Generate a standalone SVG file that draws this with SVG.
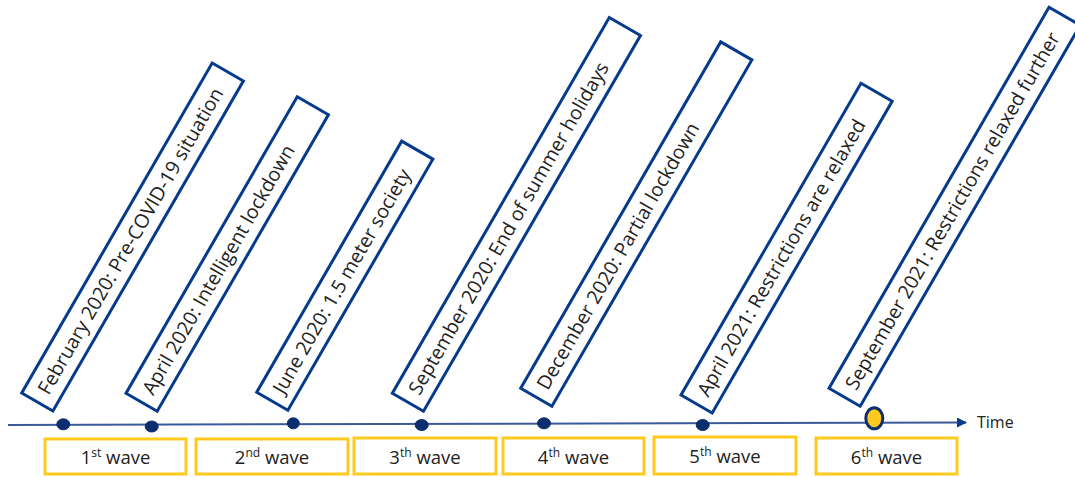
<svg xmlns="http://www.w3.org/2000/svg" width="1075" height="477" viewBox="0 0 1075 477">
<defs>
<style>
.ev rect{fill:#fff;stroke:#063a8c;stroke-width:3}
.ev text{font-family:"Open Sans","Noto Sans",sans-serif;font-size:19.5px;fill:#222}
.wave rect{fill:#fff;stroke:#ffc91f;stroke-width:3}
.wave text{font-family:"Open Sans","Noto Sans",sans-serif;font-size:18.5px;fill:#222;text-anchor:middle}
.sup{font-size:12px}
.dot{fill:#0c2d6e;stroke:#0c2d6e;stroke-width:1}
</style>
<marker id="arr" markerWidth="10" markerHeight="10" refX="9" refY="5" orient="auto" markerUnits="userSpaceOnUse">
<path d="M0,0 L10,5 L0,10 z" fill="#063a8c"/>
</marker>
</defs>
<rect width="1075" height="477" fill="#fff"/>

<g id="connectors">
<line x1="8" y1="425" x2="966" y2="422.5" stroke="#3c5a9a" stroke-width="2" marker-end="url(#arr)"/>
<ellipse class="dot" cx="63.3" cy="424.3" rx="6.5" ry="5.5"/>
<ellipse class="dot" cx="151.7" cy="426.5" rx="6.5" ry="5.5"/>
<ellipse class="dot" cx="293.3" cy="423.3" rx="6" ry="5.5"/>
<ellipse class="dot" cx="421.7" cy="425" rx="6.5" ry="5.5"/>
<ellipse class="dot" cx="544" cy="423.3" rx="6.5" ry="5.5"/>
<ellipse class="dot" cx="702.7" cy="425" rx="6.5" ry="5.5"/>
<ellipse cx="874.3" cy="418.3" rx="8.5" ry="10.5" fill="#ffc91f" stroke="#0c2d6e" stroke-width="3"/>
<text x="977" y="428" font-family="'Open Sans','Noto Sans',sans-serif" font-size="16" fill="#222">Time</text>
</g>

<g id="ev1" class="ev" transform="translate(21.7,393) rotate(-60)"><rect x="0" y="0" width="381" height="36"/><text x="11" y="25">February 2020: Pre-COVID-19 situation</text></g>
<g id="ev2" class="ev" transform="translate(126,393.3) rotate(-60)"><rect x="0" y="0" width="342.5" height="36"/><text x="11" y="25">April 2020: Intelligent lockdown</text></g>
<g id="ev3" class="ev" transform="translate(256.7,392.3) rotate(-60)"><rect x="0" y="0" width="290" height="36"/><text x="11" y="25">June 2020: 1.5 meter society</text></g>
<g id="ev4" class="ev" transform="translate(392.3,393.3) rotate(-60)"><rect x="0" y="0" width="434" height="36"/><text x="11" y="25">September 2020: End of summer holidays</text></g>
<g id="ev5" class="ev" transform="translate(520.7,388.3) rotate(-60)"><rect x="0" y="0" width="400" height="36"/><text x="11" y="25">December 2020: Partial lockdown</text></g>
<g id="ev6" class="ev" transform="translate(681,395) rotate(-60)"><rect x="0" y="0" width="360" height="36"/><text x="11" y="25">April 2021: Restrictions are relaxed</text></g>
<g id="ev7" class="ev" transform="translate(829,388.3) rotate(-60)"><rect x="0" y="0" width="440" height="36"/><text x="11" y="25">September 2021: Restrictions relaxed further</text></g>

<g id="w1" class="wave"><rect x="45" y="439" width="141" height="35"/><text x="115.5" y="464">1<tspan class="sup" dy="-7">st</tspan><tspan dy="7"> wave</tspan></text></g>
<g id="w2" class="wave"><rect x="196" y="439" width="152" height="35"/><text x="272" y="464">2<tspan class="sup" dy="-7">nd</tspan><tspan dy="7"> wave</tspan></text></g>
<g id="w3" class="wave"><rect x="354" y="438" width="142" height="36"/><text x="425" y="463.5">3<tspan class="sup" dy="-7">th</tspan><tspan dy="7"> wave</tspan></text></g>
<g id="w4" class="wave"><rect x="503" y="438" width="141" height="36"/><text x="573.5" y="463.5">4<tspan class="sup" dy="-7">th</tspan><tspan dy="7"> wave</tspan></text></g>
<g id="w5" class="wave"><rect x="654" y="437" width="142" height="37"/><text x="725" y="462.5">5<tspan class="sup" dy="-7">th</tspan><tspan dy="7"> wave</tspan></text></g>
<g id="w6" class="wave"><rect x="816" y="438" width="141" height="36"/><text x="886.5" y="463.5">6<tspan class="sup" dy="-7">th</tspan><tspan dy="7"> wave</tspan></text></g>
</svg>
